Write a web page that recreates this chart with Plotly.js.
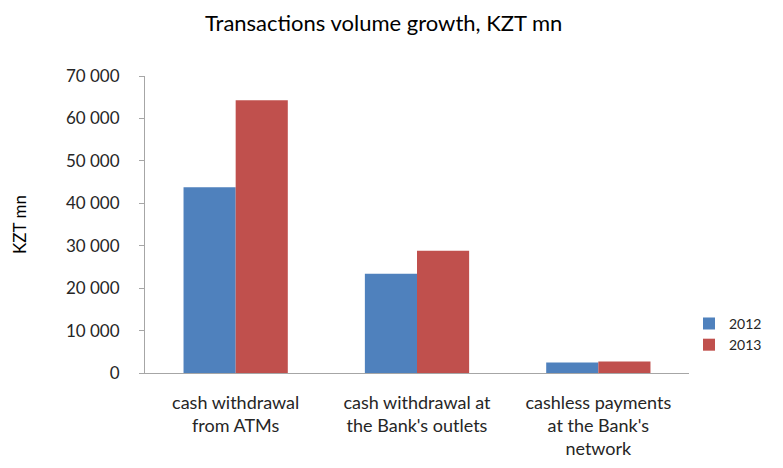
<!DOCTYPE html>
<html>
<head>
<meta charset="utf-8">
<script src="https://cdn.plot.ly/plotly-3.0.1.min.js"></script>
<style>html,body{margin:0;padding:0;background:#fff;}#chart{width:783px;height:468px;}</style>
</head>
<body>
<div id="chart"></div>
<script>
const categories = ["cash withdrawal<br>from ATMs", "cash withdrawal at<br>the Bank's outlets", "cashless payments<br>at the Bank's<br>network"];
const seriesNames = ["2012", "2013"];
const values2012 = [43800, 23400, 2500];
const values2013 = [64300, 28800, 2700];
const yTickVals = [0, 10000, 20000, 30000, 40000, 50000, 60000, 70000];
const yTickText = ["0", "10 000", "20 000", "30 000", "40 000", "50 000", "60 000", "70 000"];

const font = "Lato, 'Open Sans', sans-serif";
const data = [
  {type: "bar", name: seriesNames[0], x: categories, y: values2012, marker: {color: "#4F81BD"}},
  {type: "bar", name: seriesNames[1], x: categories, y: values2013, marker: {color: "#C0504D"}}
];
const layout = {
  width: 783, height: 468,
  margin: {l: 145, r: 94, t: 76, b: 95, autoexpand: false},
  paper_bgcolor: "#fff", plot_bgcolor: "#fff",
  font: {family: font, size: 16, color: "#262626"},
  title: {text: "Transactions volume growth, KZT mn", x: 0.49, xanchor: "center", y: 0.951, yanchor: "middle", font: {family: font, size: 22, color: "#000"}},
  barmode: "group", bargap: 0.425, bargroupgap: 0,
  showlegend: true,
  legend: {x: 1.0, xanchor: "left", y: 0.13, yanchor: "middle", font: {family: font, size: 14, color: "#262626"}, itemwidth: 30, tracegroupgap: 0},
  xaxis: {showline: true, linecolor: "#A6A6A6", linewidth: 1, ticks: "", ticklabelstandoff: 13, tickfont: {family: font, size: 18}, fixedrange: true},
  yaxis: {range: [0, 70000], tickvals: yTickVals, ticktext: yTickText, showgrid: false, zeroline: false, showline: true, linecolor: "#A6A6A6", linewidth: 1, ticks: "outside", ticklen: 5, tickcolor: "#A6A6A6", ticklabelstandoff: 16,
    title: {text: "KZT mn", standoff: 34, font: {family: font, size: 17, color: "#000"}}, tickfont: {family: font, size: 17}}
};
Plotly.newPlot("chart", data, layout, {displayModeBar: false, staticPlot: true});
</script>
</body>
</html>
